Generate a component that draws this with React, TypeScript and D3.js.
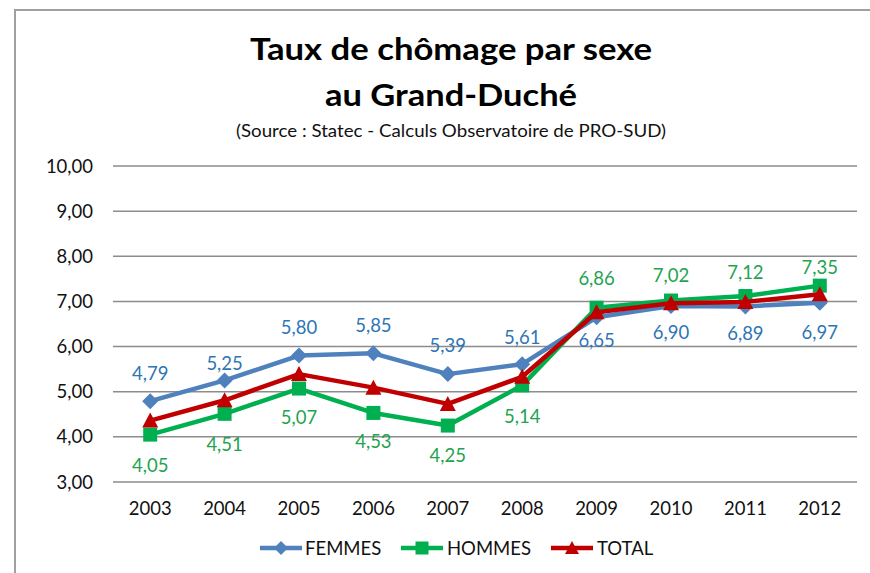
import React from "react";
import * as d3 from "d3";

const years = ["2003","2004","2005","2006","2007","2008","2009","2010","2011","2012"];
const femmes = [4.79,5.25,5.80,5.85,5.39,5.61,6.65,6.90,6.89,6.97];
const hommes = [4.05,4.51,5.07,4.53,4.25,5.14,6.86,7.02,7.12,7.35];
const total = [4.36,4.81,5.39,5.09,4.73,5.33,6.76,6.96,6.99,7.16];
const yTicks = [3,4,5,6,7,8,9,10];
// label vertical offsets (style)
const femmesLabelDy = [-28,-17,-28,-28,-29,-27,23,27,27,30];
const hommesLabelDy = [31,31,29,29,30,31,-29,-25,-24,-18];

const W = 870, H = 573;
const FONT = "Lato, 'Open Sans', sans-serif";

export default function App() {
  const x = d3.scalePoint<string>().domain(years).range([113, 857]).padding(0.5);
  const y = d3.scaleLinear().domain([3, 10]).range([482, 166]);
  const line = d3.line<number>().x((_, i) => x(years[i])!).y(d => y(d));
  const fmt = (v: number) => v.toFixed(2).replace(".", ",");

  const diamond = (cx: number, cy: number, r: number, fill: string, key?: any) => (
    <path key={key} d={`M${cx},${cy - r}L${cx + r},${cy}L${cx},${cy + r}L${cx - r},${cy}Z`} fill={fill} />
  );
  const square = (cx: number, cy: number, r: number, fill: string, key?: any) => (
    <rect key={key} x={cx - r} y={cy - r} width={2 * r} height={2 * r} fill={fill} />
  );
  const tri = (cx: number, cy: number, r: number, fill: string, key?: any) => (
    <path key={key} d={`M${cx},${cy - r - 1}L${cx + r + 1},${cy + r}L${cx - r - 1},${cy + r}Z`} fill={fill} />
  );

  const cF = "#4F81BD", cH = "#00B050", cT = "#C00000";
  const lF = "#2E75B6", lH = "#1FA34F";
  const FS = 18.5;

  return (
    <div style={{ position: "absolute", left: 0, top: 0 }}>
      <svg width={W} height={H} style={{ display: "block" }}>
        <rect x={0} y={0} width={W} height={H} fill="#fff" />
        <rect x={15} y={10} width={W + 20} height={H + 20} fill="none" stroke="#a0a0a0" strokeWidth={2} />
        <text x={451} y={60} textAnchor="middle" fontFamily={FONT} fontWeight="bold" fontSize={31} fill="#000" textLength={402} lengthAdjust="spacingAndGlyphs">Taux de chômage par sexe</text>
        <text x={451} y={106} textAnchor="middle" fontFamily={FONT} fontWeight="bold" fontSize={31} fill="#000" textLength={252} lengthAdjust="spacingAndGlyphs">au Grand-Duché</text>
        <text x={451} y={137} textAnchor="middle" fontFamily={FONT} fontSize={17} fill="#111" textLength={430} lengthAdjust="spacingAndGlyphs">(Source : Statec - Calculs Observatoire de PRO-SUD)</text>

        {yTicks.map(t => (
          <g key={t}>
            <line x1={113} x2={857} y1={y(t)} y2={y(t)} stroke="#8c8c8c" strokeWidth={1.5} />
            <text x={93} y={y(t) + 6.5} textAnchor="end" fontFamily={FONT} fontSize={FS} fill="#111">{fmt(t)}</text>
          </g>
        ))}
        {years.map(yr => (
          <text key={yr} x={x(yr)} y={515} textAnchor="middle" fontFamily={FONT} fontSize={FS} fill="#111">{yr}</text>
        ))}

        <path d={line(femmes)!} fill="none" stroke={cF} strokeWidth={4.5} strokeLinejoin="round" />
        {femmes.map((v, i) => diamond(x(years[i])!, y(v), 8, cF, "f" + i))}
        <path d={line(hommes)!} fill="none" stroke={cH} strokeWidth={4.5} strokeLinejoin="round" />
        {hommes.map((v, i) => square(x(years[i])!, y(v), 7, cH, "h" + i))}
        <path d={line(total)!} fill="none" stroke={cT} strokeWidth={4.5} strokeLinejoin="round" />
        {total.map((v, i) => tri(x(years[i])!, y(v), 7, cT, "t" + i))}

        {femmes.map((v, i) => (
          <text key={"fl" + i} x={x(years[i])} y={y(v) + femmesLabelDy[i] + 6.5} textAnchor="middle" fontFamily={FONT} fontSize={FS} fill={lF}>{fmt(v)}</text>
        ))}
        {hommes.map((v, i) => (
          <text key={"hl" + i} x={x(years[i])} y={y(v) + hommesLabelDy[i] + 6.5} textAnchor="middle" fontFamily={FONT} fontSize={FS} fill={lH}>{fmt(v)}</text>
        ))}

        {/* legend */}
        <g>
          <line x1={260} x2={302} y1={548} y2={548} stroke={cF} strokeWidth={4.5} />
          {diamond(281, 548, 7, cF)}
          <text x={305} y={554.5} fontFamily={FONT} fontSize={FS} fill="#111">FEMMES</text>
          <line x1={401} x2={443} y1={548} y2={548} stroke={cH} strokeWidth={4.5} />
          {square(422, 548, 6.5, cH)}
          <text x={447} y={554.5} fontFamily={FONT} fontSize={FS} fill="#111">HOMMES</text>
          <line x1={551} x2={593} y1={548} y2={548} stroke={cT} strokeWidth={4.5} />
          {tri(572, 548, 6, cT)}
          <text x={597} y={554.5} fontFamily={FONT} fontSize={FS} fill="#111">TOTAL</text>
        </g>
      </svg>
    </div>
  );
}
